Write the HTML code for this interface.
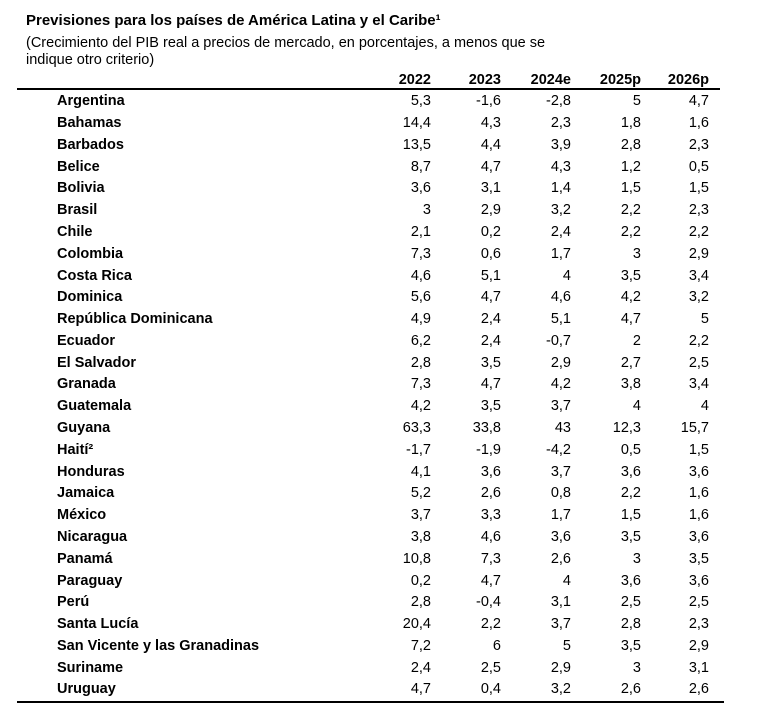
<!DOCTYPE html>
<html><head><meta charset="utf-8"><style>
body{margin:0;width:759px;height:713px;background:#fff;font-family:"Liberation Sans",Arial,sans-serif;color:#000;position:relative;overflow:hidden}
.t{position:absolute;left:26px;top:12px;font-weight:bold;font-size:15px}
.s{position:absolute;left:26px;top:35px;font-size:14.5px;line-height:17px}
.line{position:absolute;left:17px;height:2px;background:#000}
.r{position:absolute;left:0;width:759px;height:20px;font-size:14.5px}
.r span{position:absolute;top:0;text-align:right;width:80px}
.r .n{left:57px;text-align:left;width:300px;font-weight:bold}
.h span{font-weight:bold}
.c1{left:351px}.c2{left:421px}.c3{left:491px}.c4{left:561px}.c5{left:629px}
</style></head><body>
<div class="t">Previsiones para los países de América Latina y el Caribe¹</div>
<div class="s">(Crecimiento del PIB real a precios de mercado, en porcentajes, a menos que se<br>indique otro criterio)</div>
<div class="r h" style="top:72px"><span class="c1">2022</span><span class="c2">2023</span><span class="c3">2024e</span><span class="c4">2025p</span><span class="c5">2026p</span></div>
<div class="line" style="top:88px;width:703px"></div>
<div class="line" style="top:701px;width:707px"></div>
<div id="rows"></div>
<script>
var d=[["Argentina","5,3","-1,6","-2,8","5","4,7"],["Bahamas","14,4","4,3","2,3","1,8","1,6"],["Barbados","13,5","4,4","3,9","2,8","2,3"],["Belice","8,7","4,7","4,3","1,2","0,5"],["Bolivia","3,6","3,1","1,4","1,5","1,5"],["Brasil","3","2,9","3,2","2,2","2,3"],["Chile","2,1","0,2","2,4","2,2","2,2"],["Colombia","7,3","0,6","1,7","3","2,9"],["Costa Rica","4,6","5,1","4","3,5","3,4"],["Dominica","5,6","4,7","4,6","4,2","3,2"],["República Dominicana","4,9","2,4","5,1","4,7","5"],["Ecuador","6,2","2,4","-0,7","2","2,2"],["El Salvador","2,8","3,5","2,9","2,7","2,5"],["Granada","7,3","4,7","4,2","3,8","3,4"],["Guatemala","4,2","3,5","3,7","4","4"],["Guyana","63,3","33,8","43","12,3","15,7"],["Haití²","-1,7","-1,9","-4,2","0,5","1,5"],["Honduras","4,1","3,6","3,7","3,6","3,6"],["Jamaica","5,2","2,6","0,8","2,2","1,6"],["México","3,7","3,3","1,7","1,5","1,6"],["Nicaragua","3,8","4,6","3,6","3,5","3,6"],["Panamá","10,8","7,3","2,6","3","3,5"],["Paraguay","0,2","4,7","4","3,6","3,6"],["Perú","2,8","-0,4","3,1","2,5","2,5"],["Santa Lucía","20,4","2,2","3,7","2,8","2,3"],["San Vicente y las Granadinas","7,2","6","5","3,5","2,9"],["Suriname","2,4","2,5","2,9","3","3,1"],["Uruguay","4,7","0,4","3,2","2,6","2,6"]];
var h="";d.forEach(function(r,i){var y=93.3+i*21.78;h+='<div class="r" style="top:'+y.toFixed(1)+'px"><span class="n">'+r[0]+'</span>';for(var j=1;j<6;j++)h+='<span class="c'+j+'">'+r[j]+'</span>';h+='</div>';});
document.getElementById("rows").innerHTML=h;
</script>
</body></html>
